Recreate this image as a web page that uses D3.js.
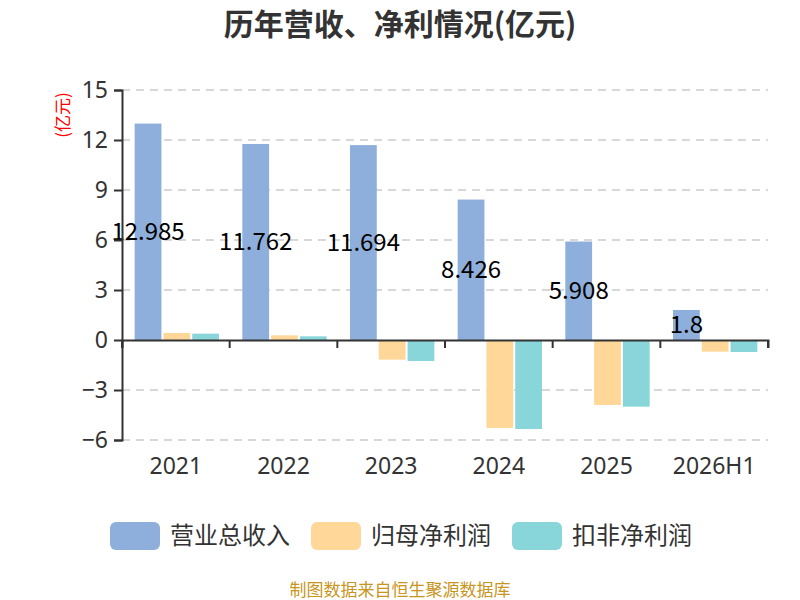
<!DOCTYPE html>
<html>
<head>
<meta charset="utf-8">
<script src="https://cdn.jsdelivr.net/npm/d3@7"></script>
<style>
  body { margin: 0; background: #fff; }
  svg { font-family: "Noto Sans CJK SC", "Noto Sans", sans-serif; }
</style>
</head>
<body>
<svg id="chart" width="800" height="600"></svg>
<script>
// data
const years = ['2021', '2022', '2023', '2024', '2025', '2026H1'];
const revenue = [12.985, 11.762, 11.694, 8.426, 5.908, 1.8];
const netProfit = [0.42, 0.28, -1.18, -5.28, -3.9, -0.7];
const deductedProfit = [0.38, 0.22, -1.26, -5.34, -4.0, -0.72];
const seriesNames = ['营业总收入', '归母净利润', '扣非净利润'];
const yTicks = [-6, -3, 0, 3, 6, 9, 12, 15];

const colors = ['#8EAEDB', '#FFD899', '#88D6D9'];
const series = [revenue, netProfit, deductedProfit];

const width = 800;
const margin = { top: 90, right: 32, bottom: 160, left: 122 };

const svg = d3.select('#chart');

const x = d3.scaleBand()
    .domain(years)
    .range([margin.left, width - margin.right])
    .paddingInner(0)
    .paddingOuter(0);

const x1 = d3.scaleBand()
    .domain(d3.range(series.length))
    .range([2, x.bandwidth()])
    .paddingInner(0.07)
    .paddingOuter(0.37);

const y = d3.scaleLinear()
    .domain([-6, 15])
    .range([440, 90]);

// title
svg.append('text')
    .attr('x', 400)
    .attr('y', 35)
    .attr('text-anchor', 'middle')
    .attr('font-size', 30)
    .attr('font-weight', 'bold')
    .attr('fill', '#333')
    .text('历年营收、净利情况(亿元)');

// grid lines
svg.append('g')
    .selectAll('line')
    .data(yTicks.filter(d => d !== 0))
    .join('line')
    .attr('x1', margin.left)
    .attr('x2', width - margin.right)
    .attr('y1', d => y(d))
    .attr('y2', d => y(d))
    .attr('stroke', '#ccc')
    .attr('stroke-width', 1.5)
    .attr('stroke-dasharray', '8,6');

// bars
const groups = svg.append('g')
    .selectAll('g')
    .data(years)
    .join('g')
    .attr('transform', d => `translate(${x(d)},0)`);

groups.selectAll('rect')
    .data((d, i) => series.map((s, k) => ({ k, v: s[i] })))
    .join('rect')
    .attr('x', d => x1(d.k))
    .attr('width', x1.bandwidth())
    .attr('y', d => y(Math.max(0, d.v)))
    .attr('height', d => Math.abs(y(d.v) - y(0)))
    .attr('fill', d => colors[d.k]);

// revenue labels in the middle of the bar
groups.append('text')
    .datum((d, i) => revenue[i])
    .attr('x', x1(0) + x1.bandwidth() / 2)
    .attr('y', d => (y(d) + y(0)) / 2)
    .attr('dy', '0.35em')
    .attr('text-anchor', 'middle')
    .attr('font-size', 24)
    .attr('fill', '#000')
    .text(d => d);

// y axis
const yAxis = svg.append('g')
    .attr('transform', `translate(${margin.left},0)`)
    .call(d3.axisLeft(y).tickValues(yTicks).tickSize(8).tickPadding(6).tickFormat(d3.format('d')));
yAxis.select('.domain').attr('stroke', '#333').attr('stroke-width', 2);
yAxis.selectAll('.tick line').attr('stroke', '#333').attr('stroke-width', 2);
yAxis.selectAll('.tick text')
    .attr('font-size', 23)
    .attr('fill', '#333')
    .attr('font-family', '"Noto Sans", sans-serif');

// x axis at zero
const xAxis = svg.append('g')
    .attr('transform', `translate(0,${y(0)})`)
    .call(d3.axisBottom(x).tickSize(8).tickFormat(''));
xAxis.select('.domain').attr('stroke', '#333').attr('stroke-width', 2);
xAxis.selectAll('.tick line').remove();
xAxis.selectAll('.edge')
    .data(years.map(d => x(d)).concat([x.range()[1]]))
    .join('line')
    .attr('x1', d => d)
    .attr('x2', d => d)
    .attr('y1', 0)
    .attr('y2', 8)
    .attr('stroke', '#333')
    .attr('stroke-width', 2);

// category labels below the plot
svg.append('g')
    .selectAll('text')
    .data(years)
    .join('text')
    .attr('x', d => x(d) + x.bandwidth() / 2)
    .attr('y', 474)
    .attr('text-anchor', 'middle')
    .attr('font-size', 23)
    .attr('fill', '#333')
    .attr('font-family', '"Noto Sans", sans-serif')
    .text(d => d);

// unit label
svg.append('text')
    .attr('transform', 'translate(69,115) rotate(-90)')
    .attr('text-anchor', 'middle')
    .attr('font-size', 17)
    .attr('fill', 'red')
    .text('(亿元)');

// legend
const legend = svg.append('g')
    .selectAll('g')
    .data(seriesNames)
    .join('g')
    .attr('transform', (d, i) => `translate(${110 + i * 201},522)`);

legend.append('rect')
    .attr('width', 50)
    .attr('height', 28)
    .attr('rx', 6)
    .attr('fill', (d, i) => colors[i]);

legend.append('text')
    .attr('x', 60)
    .attr('y', 14)
    .attr('dy', '0.35em')
    .attr('font-size', 24)
    .attr('fill', '#333')
    .text(d => d);

// source note
svg.append('text')
    .attr('x', 400)
    .attr('y', 590)
    .attr('dy', '0.35em')
    .attr('text-anchor', 'middle')
    .attr('font-size', 17)
    .attr('fill', '#C8961E')
    .text('制图数据来自恒生聚源数据库');
</script>
</body>
</html>
